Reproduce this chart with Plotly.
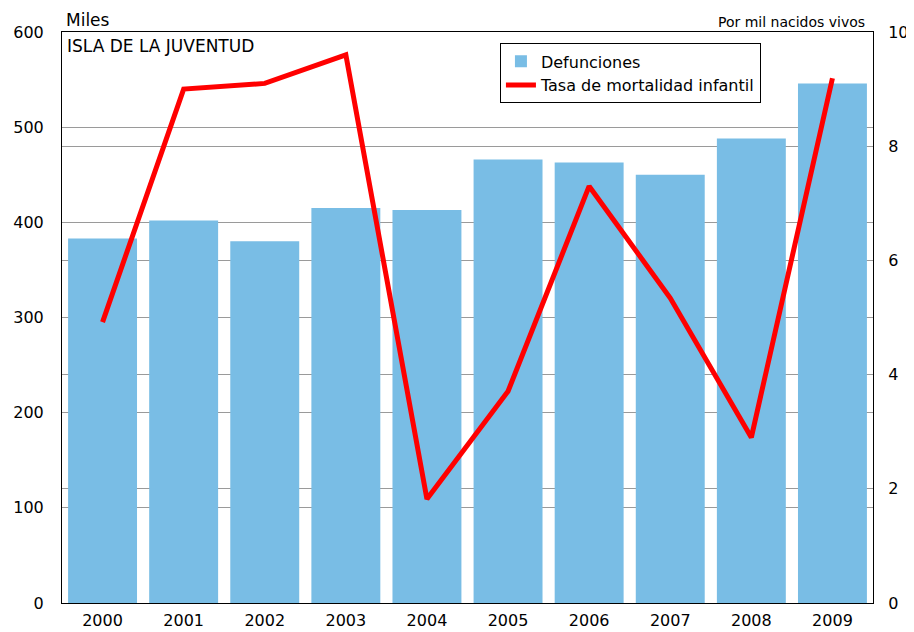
import plotly.graph_objects as go

years = ["2000", "2001", "2002", "2003", "2004", "2005", "2006", "2007", "2008", "2009"]
defunciones = [383, 402, 380, 415, 413, 466, 463, 450, 488, 546]
tasa = [4.92, 9.0, 9.1, 9.6, 1.82, 3.71, 7.3, 5.34, 2.9, 9.19]

FONT = "DejaVu Sans"
fig = go.Figure()
fig.add_trace(go.Bar(x=years, y=defunciones, name="Defunciones",
                     marker=dict(color="#79BDE5", line=dict(width=0)), yaxis="y"))
fig.add_trace(go.Scatter(x=years, y=tasa, name="Tasa de mortalidad infantil",
                         mode="lines", line=dict(color="#FF0000", width=5), yaxis="y2"))

fig.update_layout(
    width=914, height=632,
    margin=dict(l=54, r=49, t=24, b=37),
    paper_bgcolor="white", plot_bgcolor="white",
    font=dict(family=FONT, size=16, color="black"),
    bargap=0.15,
    showlegend=True,
    legend=dict(x=0.54, y=0.98, xanchor="left", yanchor="top",
                bgcolor="white", bordercolor="black", borderwidth=1,
                font=dict(size=16, family=FONT), tracegroupgap=0, itemwidth=30),
    xaxis=dict(showgrid=False, showline=True, linecolor="black", linewidth=1, mirror=True,
               ticks="outside", ticklen=3, tickcolor="rgba(0,0,0,0)",
               tickfont=dict(size=16), automargin=False),
    yaxis=dict(range=[0, 600], dtick=100, showgrid=True, gridcolor="#9A9A9A", gridwidth=1,
               showline=True, linecolor="black", linewidth=1,
               ticks="outside", ticklen=14, tickcolor="rgba(0,0,0,0)",
               zeroline=False, tickfont=dict(size=16), automargin=False),
    yaxis2=dict(range=[0, 10], dtick=2, overlaying="y", side="right",
                showgrid=True, gridcolor="#9A9A9A", gridwidth=1,
                showline=True, linecolor="black", linewidth=1,
                ticks="outside", ticklen=11, tickcolor="rgba(0,0,0,0)",
                zeroline=False, tickfont=dict(size=16), automargin=False),
    annotations=[
        dict(text="Miles", x=0, xref="paper", y=1, yref="paper", xanchor="left", yanchor="bottom",
             xshift=2, yshift=0, showarrow=False, font=dict(size=17)),
        dict(text="Por mil nacidos vivos", x=1, xref="paper", y=1, yref="paper", xanchor="right",
             yanchor="bottom", xshift=-6, yshift=0, showarrow=False, font=dict(size=14)),
        dict(text="ISLA DE LA JUVENTUD", x=0, xref="paper", y=1, yref="paper", xanchor="left",
             yanchor="top", xshift=3, yshift=-2, showarrow=False, font=dict(size=17)),
    ],
)
fig.write_html("out.html")
